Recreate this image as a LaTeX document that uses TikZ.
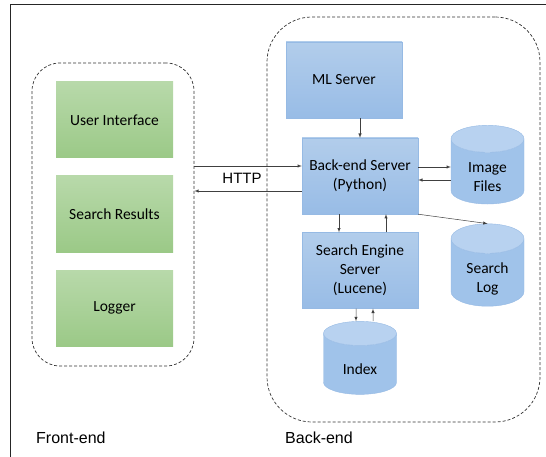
\documentclass[tikz,border=0pt]{standalone}
\usepackage{fontspec}
\setmainfont{Carlito}
\newfontfamily\labelfont{Liberation Sans}
\usetikzlibrary{shapes.geometric}
\definecolor{blueTop}{RGB}{178,205,235}
\definecolor{blueBot}{RGB}{152,188,230}
\definecolor{blueLine}{RGB}{150,186,228}
\definecolor{blueEnd}{RGB}{184,210,240}
\definecolor{blueBody}{RGB}{160,195,234}
\definecolor{greenTop}{RGB}{184,217,170}
\definecolor{greenBot}{RGB}{155,201,135}
\newcommand{\lowtext}[1]{\raisebox{-7pt}[\height][\depth]{\begin{tabular}{@{}c@{}}#1\end{tabular}}}
\begin{document}
\begin{tikzpicture}[
x=1pt, y=-1pt,
server/.style={
draw=blueLine,
top color=blueTop,
bottom color=blueBot,
align=center,
inner sep=0pt,
minimum width=116pt,
minimum height=76pt,
font=\fontsize{15.5}{19}\selectfont
},
module/.style={
top color=greenTop,
bottom color=greenBot,
align=center,
inner sep=0pt,
minimum width=117pt,
minimum height=76pt,
font=\fontsize{15.5}{19}\selectfont
},
store/.style={
cylinder,
shape border rotate=90,
aspect=0.7,
draw=blueLine,
cylinder uses custom fill,
cylinder body fill=blueBody,
cylinder end fill=blueEnd,
inner sep=0pt,
minimum width=73pt,
minimum height=73pt,
font=\fontsize{15.5}{19}\selectfont
},
group/.style={
draw=black!80,
line width=0.7pt,
dash pattern=on 3pt off 2pt,
inner sep=0pt
},
link/.style={draw=black!75, line width=0.5pt, -latex}
]

\useasboundingbox (0,0) rectangle (546,457);
\draw[black!85, line width=0.8pt] (10,457) -- (10,4) -- (546,4);

\node[group, rounded corners=28pt, minimum width=162pt, minimum height=303pt] (fe) at (113,214.5) {};
\node[group, rounded corners=45pt, minimum width=273pt, minimum height=405pt] (be) at (403.5,219.5) {};

\node[module] (ui) at (114.5,120) {User Interface};
\node[module] (sr) at (114.5,214) {Search Results};
\node[module] (lg) at (114.5,308) {Logger};

\node[server] (ml) at (344,80) {ML Server};
\node[server] (bes) at (360,176) {Back-end Server\\(Python)};
\node[server] (se) at (360,270.5) {Search Engine\\Server\\(Lucene)};

\node[store] (img) at (487.5,171.5) {\lowtext{Image\\Files}};
\node[store] (slog) at (487.5,272.5) {\lowtext{Search\\Log}};
\node[store] (idx) at (360,364) {\lowtext{Index}};

\node[font=\labelfont\fontsize{15}{18}\selectfont] (http) at (242,178) {HTTP};
\node[font=\labelfont\fontsize{16}{19}\selectfont, anchor=base west, inner sep=0pt] (fel) at (36,443) {Front-end};
\node[font=\labelfont\fontsize{16}{19}\selectfont, anchor=base west, inner sep=0pt] (bel) at (285,443) {Back-end};

\draw[link] (fe.east |- bes.west) ++(0,-10) -- ([yshift=10pt]bes.west);
\draw[link] ([yshift=-15pt]bes.west) -- ([yshift=-15pt]fe.east |- bes.west);

\draw[link] (ml.south -| bes.north) -- (bes.north);
\draw[link] ([yshift=9pt]bes.east) -- ([yshift=9pt]img.west |- bes.east);
\draw[link] ([yshift=-4pt]img.west |- bes.east) -- ([yshift=-4pt]bes.east);
\draw[link] (bes.south east) -- (slog.north);

\draw[link] ([xshift=-21pt]bes.south) -- ([xshift=-21pt]se.north);
\draw[link] ([xshift=26pt]se.north) -- ([xshift=26pt]bes.south);

\draw[link] ([xshift=-4pt]se.south) -- ([xshift=-4pt]idx.north);
\draw[link] ([xshift=13pt]idx.north) -- ([xshift=13pt]se.south);

\end{tikzpicture}
\end{document}
